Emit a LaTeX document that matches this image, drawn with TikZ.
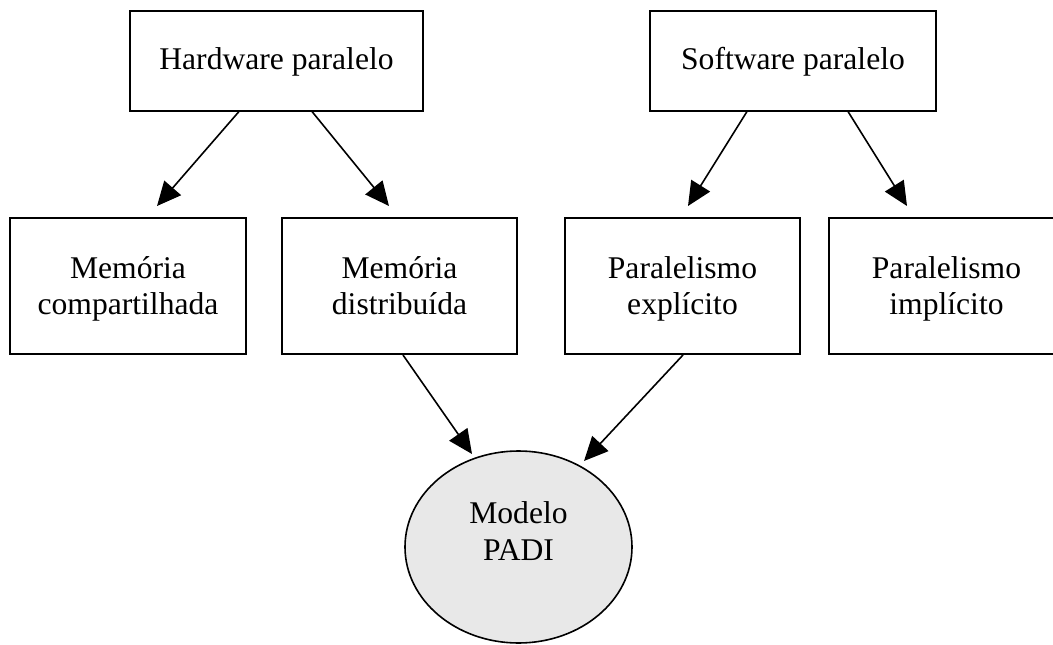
\documentclass[tikz,border=0pt]{standalone}
\usepackage{fontspec}
\setmainfont{Liberation Serif}
\usetikzlibrary{arrows.meta,shapes.geometric,calc}

% two centred lines with fixed top and bottom extents
\newcommand{\twolines}[4]{\rule{0pt}{#3}#1\\#2\rule[-#4]{0pt}{#4}}

\tikzset{
  box/.style={draw, line width=2pt, rectangle, inner sep=0pt,
    minimum height=136pt, minimum width=235pt, align=center,
    font=\fontsize{31.6pt}{36.5pt}\selectfont},
  topbox/.style={box, minimum height=100pt, text height=22pt, text depth=4pt},
  model/.style={draw, line width=1.6pt, ellipse, fill=black!9, inner sep=0pt,
    minimum width=227pt, minimum height=192pt, align=center,
    font=\fontsize{31.6pt}{36.5pt}\selectfont},
  link/.style={line width=1.6pt, -{Triangle[length=24pt,width=22pt]}}
}

\begin{document}
\begin{tikzpicture}[x=1pt,y=-1pt]
  \useasboundingbox (0,0) rectangle (1053,645);
  \clip (0,0) rectangle (1053,645);

  % top level
  \node[topbox, minimum width=293pt] (hw) at (276.5,60.5) {Hardware paralelo};
  \node[topbox, minimum width=286pt] (sw) at (793,60.5) {Software paralelo};

  % second level
  \node[box, minimum width=236pt] (mc) at (128,286) {\twolines{Memória}{compartilhada}{29pt}{8pt}};
  \node[box] (md) at (399.5,286) {\twolines{Memória}{distribuída}{29pt}{8pt}};
  \node[box] (pe) at (682.5,286) {\twolines{Paralelismo}{explícito}{29pt}{8pt}};
  \node[box] (pi) at (946.5,286) {\twolines{Paralelismo}{implícito}{29pt}{8pt}};

  % model
  \node[model] (padi) at (518.5,547) {\twolines{Modelo}{PADI}{22pt}{32pt}};

  % connectors
  \draw[link] ([xshift=-37.5pt]hw.south) -- ([xshift=29pt,yshift=11pt]mc.north);
  \draw[link] ([xshift=35.5pt]hw.south) -- ([xshift=-10.5pt,yshift=11pt]md.north);
  \draw[link] ([xshift=-46pt]sw.south) -- ([xshift=5.5pt,yshift=11pt]pe.north);
  \draw[link] ([xshift=55pt]sw.south) -- ([xshift=-39.5pt,yshift=11pt]pi.north);
  \draw[link] ([xshift=3.5pt]md.south) -- ($(padi.center)+(-46.5,-93)$);
  \draw[link] ([xshift=0.5pt]pe.south) -- ($(padi.center)+(65.5,-86)$);
\end{tikzpicture}
\end{document}
